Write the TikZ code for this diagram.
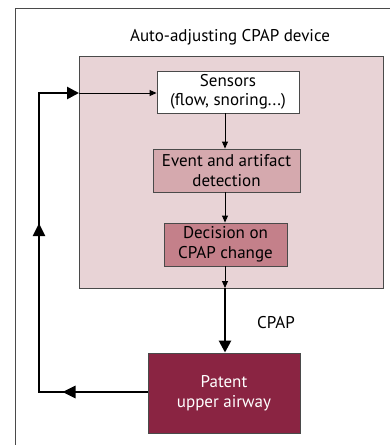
\documentclass[tikz,border=0pt]{standalone}
\usepackage{fontspec}
\setmainfont{PT Sans}
\usetikzlibrary{arrows.meta,decorations.markings}
\definecolor{devbg}{HTML}{E8D3D6}
\definecolor{evbg}{HTML}{D5A9AE}
\definecolor{decbg}{HTML}{C4808A}
\definecolor{patbg}{HTML}{8A2442}
\definecolor{edge}{HTML}{4A4A4A}
\tikzset{
  txt/.style={font=\fontsize{17}{19.5}\selectfont},
  box/.style={draw=edge, line width=0.9pt, inner sep=0pt, align=center, txt},
  thin/.style={line width=0.9pt, -{Triangle[length=7pt,width=6pt]}},
  thick/.style={line width=2.6pt, -{Triangle[length=12pt,width=12pt]}},
  bigtip/.style={-{Triangle[length=12pt,width=12pt]}},
}
\begin{document}
\begin{tikzpicture}[x=1pt,y=-1pt]
\useasboundingbox (0,0) rectangle (390,445);
% outer frame (top and left edges)
\draw[edge, line width=0.9pt] (15,445) -- (15,8) -- (390,8);
\node[txt] (title) at (230,37) {Auto-adjusting CPAP device};
% device box
\node[box, fill=devbg, minimum width=304pt, minimum height=232pt, anchor=north west] (dev) at (79,56) {};
\node[box, fill=white, minimum width=142pt, minimum height=42pt] (sens) at (228,92) {Sensors\\(flow, snoring...)};
\node[box, fill=evbg, minimum width=147pt, minimum height=43pt] (ev) at (226.5,170.5) {Event and artifact\\detection};
\node[box, fill=decbg, minimum width=123pt, minimum height=43pt] (dec) at (225.5,244.5) {Decision on\\CPAP change};
\node[box, fill=patbg, text=white, minimum width=152pt, minimum height=80pt] (pat) at (224,393) {Patent\\upper airway};
\node[txt] (cpap) at (276,323) {CPAP};
% coordinates
\coordinate (dbot) at (225,288);
\coordinate (c1) at (39,392);
\coordinate (c2) at (39,93);
\coordinate (c3) at (79,93);
% vertical flow
\draw[thin] (sens.south -| 225,0) -- (ev.north -| 225,0);
\draw[thin] (ev.south -| 225,0) -- (dec.north -| 225,0);
\draw[thin] (dec.south -| 225,0) -- (dbot);
\draw[thick] (dbot) -- (pat.north -| 225,0);
% feedback loop
\draw[line width=2.6pt, line join=miter,
  decoration={markings,
    mark=at position 0.19 with {\arrow{Triangle[length=13pt,width=12pt]}},
    mark=at position 0.62 with {\arrow{Triangle[length=13pt,width=12pt]}}},
  postaction={decorate}, bigtip]
  (pat.west |- c1) -- (c1) -- (c2) -- (c3);
\draw[thin] (c3) -- (sens.west |- c3);
\end{tikzpicture}
\end{document}
